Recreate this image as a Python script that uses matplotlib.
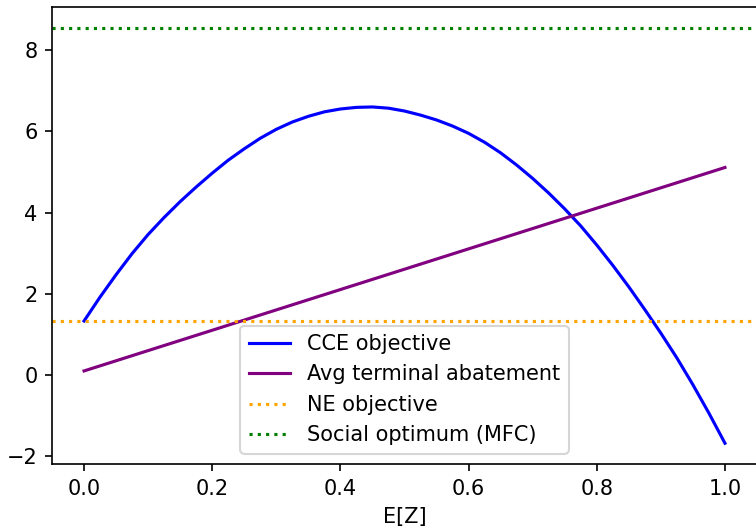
import matplotlib
matplotlib.use("Agg")
import matplotlib.pyplot as plt

# E[Z] grid and values
ez = [0.000, 0.025, 0.050, 0.075, 0.100, 0.125, 0.150, 0.175, 0.200, 0.225,
      0.250, 0.275, 0.300, 0.325, 0.350, 0.375, 0.400, 0.425, 0.450, 0.475,
      0.500, 0.525, 0.550, 0.575, 0.600, 0.625, 0.650, 0.675, 0.700, 0.725,
      0.750, 0.775, 0.800, 0.825, 0.850, 0.875, 0.900, 0.925, 0.950, 0.975,
      1.000]
cce_obj = [1.33, 1.92, 2.47, 2.99, 3.46, 3.88, 4.27, 4.63, 4.97, 5.29,
           5.57, 5.83, 6.05, 6.23, 6.37, 6.48, 6.55, 6.59, 6.60, 6.57,
           6.50, 6.40, 6.28, 6.13, 5.95, 5.73, 5.47, 5.17, 4.84, 4.48,
           4.09, 3.67, 3.20, 2.70, 2.17, 1.61, 1.03, 0.42, -0.24, -0.94,
           -1.68]

abate_x = [0.0, 1.0]
avg_abatement = [0.10, 5.11]

ne_objective = 1.33
social_opt = 8.55

fig = plt.figure(figsize=(756 / 150, 527 / 150), dpi=150)
ax = fig.add_axes([52 / 756, 63 / 527, 705 / 756, 457 / 527])

ax.plot(ez, cce_obj, color="blue", label="CCE objective")
ax.plot(abate_x, avg_abatement, color="purple", label="Avg terminal abatement")
ax.axhline(ne_objective, color="orange", linestyle=":", label="NE objective")
ax.axhline(social_opt, color="green", linestyle=":", label="Social optimum (MFC)")

ax.set_xlabel("E[Z]")
ax.legend(loc="lower center")

fig.savefig("out.png", dpi=150)
